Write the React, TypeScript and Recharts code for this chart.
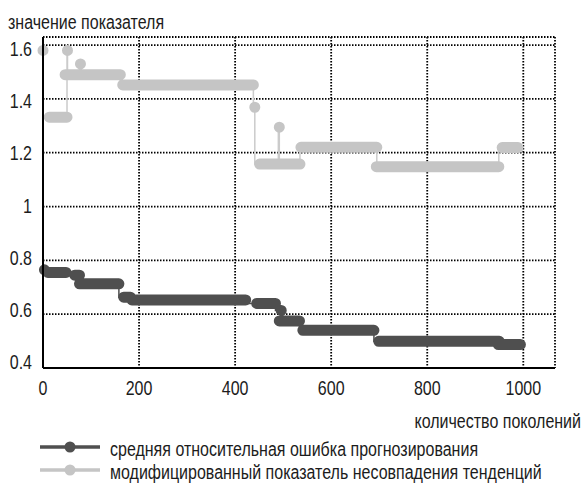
import { ComposedChart, Line, XAxis, YAxis, CartesianGrid } from "recharts";

const FONT = '"Liberation Sans", Arial, sans-serif';
const TEXT = "#1c1c1c";
const DARK = "#4f4f4f";
const LIGHT = "#c5c5c5";

const xTicks = [0, 200, 400, 600, 800, 1000];
const yTicks = [0.4, 0.6, 0.8, 1, 1.2, 1.4, 1.6];

// средняя относительная ошибка: flat stretches (generation from / to, level)
const errorFrom = [3, 10, 66, 76, 168, 185, 445, 496, 492, 541, 699, 948];
const errorTo = [3, 48, 76, 158, 182, 422, 484, 496, 534, 689, 950, 994];
const errorValue = [
  0.765, 0.755, 0.745, 0.713, 0.663, 0.653, 0.64, 0.614, 0.575, 0.54, 0.499,
  0.487,
];

// модифицированный показатель несовпадения тенденций
const trendFrom = [0, 13, 51, 46, 78, 80, 166, 441, 451, 492, 494, 537, 694, 956];
const trendTo = [0, 50, 51, 76, 78, 161, 438, 441, 490, 492, 535, 695, 949, 989];
const trendValue = [
  1.58, 1.332, 1.58, 1.49, 1.53, 1.49, 1.452, 1.369, 1.158, 1.295, 1.158, 1.22,
  1.148, 1.219,
];

type Pt = { x: number; y: number | null };

function toPoints(from: number[], to: number[], value: number[], gaps: boolean) {
  const pts: Pt[] = [];
  from.forEach((f, i) => {
    pts.push({ x: f, y: value[i] }, { x: to[i], y: value[i] });
    if (gaps) pts.push({ x: to[i], y: null });
  });
  return pts;
}

const errorThin = toPoints(errorFrom, errorTo, errorValue, false);
const errorThick = toPoints(errorFrom, errorTo, errorValue, true);
const trendThin = toPoints(trendFrom, trendTo, trendValue, false);
const trendThick = toPoints(trendFrom, trendTo, trendValue, true);

// narrow type: squeeze Liberation Sans horizontally
function Narrow({ x, y, anchor = "start", children }: any) {
  return (
    <text
      transform={`translate(${x},${y}) scale(0.8,1)`}
      textAnchor={anchor}
      fontFamily={FONT}
      fontSize={20}
      fill={TEXT}
    >
      {children}
    </text>
  );
}

function XTick({ x, y, payload }: any) {
  return (
    <Narrow x={x} y={y + 27} anchor="middle">
      {payload.value}
    </Narrow>
  );
}

function YTick({ x, y, payload }: any) {
  const v = payload.value;
  return (
    <Narrow x={x - 11} y={56 + (y - 45) * 0.97} anchor="end">
      {v === 1 ? "1" : v.toFixed(1)}
    </Narrow>
  );
}

const lineProps = {
  dataKey: "y",
  dot: false,
  activeDot: false,
  isAnimationActive: false,
  legendType: "none" as const,
};

export default function App() {
  return (
    <div style={{ position: "absolute", left: 0, top: 0, width: 583, height: 483 }}>
      <ComposedChart
        width={583}
        height={483}
        margin={{ top: 37, right: 28, bottom: 0, left: 0 }}
      >
        <XAxis
          dataKey="x"
          type="number"
          domain={[0, 1066]}
          ticks={xTicks}
          tick={<XTick />}
          tickLine={false}
          tickSize={0}
          tickMargin={0}
          axisLine={{ stroke: "#000", strokeWidth: 2 }}
          height={115}
        />
        <YAxis
          type="number"
          domain={[0.4, 1.63]}
          ticks={yTicks}
          tick={<YTick />}
          tickLine={false}
          tickSize={0}
          tickMargin={0}
          axisLine={{ stroke: "#000", strokeWidth: 2 }}
          width={43}
        />
        <Line {...lineProps} data={trendThin} type="stepBefore" stroke="#cbcbcb" strokeWidth={1.5} />
        <Line
          {...lineProps}
          data={trendThick}
          type="linear"
          stroke={LIGHT}
          strokeWidth={11}
          strokeLinecap="round"
        />
        <Line {...lineProps} data={errorThin} type="stepBefore" stroke={DARK} strokeWidth={1.5} />
        <Line
          {...lineProps}
          data={errorThick}
          type="linear"
          stroke={DARK}
          strokeWidth={11}
          strokeLinecap="round"
        />
        <CartesianGrid stroke="#000" strokeWidth={1.8} strokeDasharray="1.5 1.5" />
      </ComposedChart>
      <svg
        width={583}
        height={483}
        style={{ position: "absolute", left: 0, top: 0, pointerEvents: "none" }}
      >
        <Narrow x={8} y={29}>значение показателя</Narrow>
        <Narrow x={581} y={428} anchor="end">количество поколений</Narrow>
        <line x1={40} x2={100} y1={447} y2={447} stroke={DARK} strokeWidth={3.5} />
        <circle cx={70} cy={447} r={5.5} fill={DARK} />
        <Narrow x={110} y={456}>средняя относительная ошибка прогнозирования</Narrow>
        <line x1={40} x2={100} y1={470} y2={470} stroke={LIGHT} strokeWidth={3.5} />
        <circle cx={70} cy={470} r={5.5} fill={LIGHT} />
        <Narrow x={110} y={479}>модифицированный показатель несовпадения тенденций</Narrow>
      </svg>
    </div>
  );
}
